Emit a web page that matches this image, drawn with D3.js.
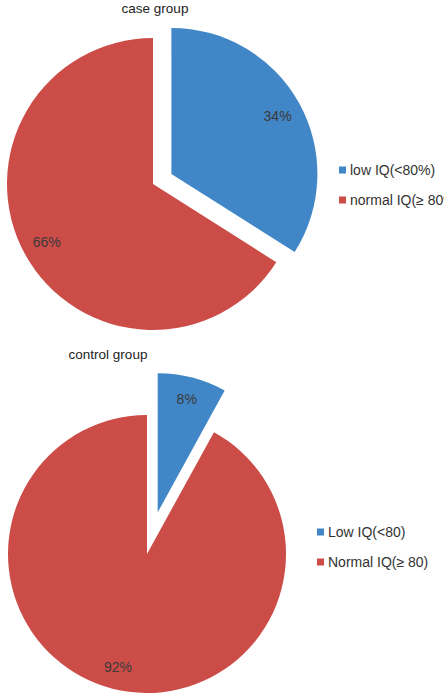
<!DOCTYPE html>
<html><head><meta charset="utf-8">
<script src="https://cdn.jsdelivr.net/npm/d3@7"></script>
<style>body{margin:0;background:#fff;overflow:hidden}svg{display:block}</style>
</head><body>
<svg id="c" width="444" height="694"></svg>
<script>
const caseCategories = ["low IQ(<80%)", "normal IQ(≥ 80%)"];
const caseValues = [34, 66];
const controlCategories = ["Low IQ(<80)", "Normal IQ(≥ 80)"];
const controlValues = [8, 92];
const titles = ["case group", "control group"];
const colors = ["#4186c6", "#cc4c48"];

const svg = d3.select("#c");
const font = "'Liberation Sans', Arial, sans-serif";

const charts = [
  {title: titles[0], cats: caseCategories, vals: caseValues, cx: 153, cy: 184, r: 146, explode: 21,
   tx: 155, ty: 13, lx: 339, ly: 170, lgap: 30, lf: 0.83},
  {title: titles[1], cats: controlCategories, vals: controlValues, cx: 147, cy: 554, r: 139, explode: 43,
   tx: 108, ty: 359, lx: 317, ly: 532, lgap: 30, lf: 0.84}
];

charts.forEach(ch => {
  const pie = d3.pie().sort(null).value(d => d)(ch.vals);
  const arc = d3.arc().innerRadius(0).outerRadius(ch.r);
  const g = svg.append("g").attr("transform", `translate(${ch.cx},${ch.cy})`);
  pie.forEach((p, i) => {
    const mid = (p.startAngle + p.endAngle) / 2;
    const off = i === 0 ? ch.explode : 0;
    const dx = Math.sin(mid) * off, dy = -Math.cos(mid) * off;
    const sg = g.append("g").attr("transform", `translate(${dx},${dy})`);
    sg.append("path").attr("d", arc(p)).attr("fill", colors[i]);
    const lr = ch.r * ch.lf;
    sg.append("text")
      .attr("x", Math.sin(mid) * lr).attr("y", -Math.cos(mid) * lr)
      .attr("text-anchor", "middle").attr("dominant-baseline", "central")
      .attr("font-family", font).attr("font-size", 14).attr("fill", "#3a3a3a")
      .text(ch.vals[i] + "%");
  });
  svg.append("text").attr("x", ch.tx).attr("y", ch.ty).attr("text-anchor", "middle")
    .attr("font-family", font).attr("font-size", 13.5).attr("fill", "#222").text(ch.title);
  ch.cats.forEach((c, i) => {
    const y = ch.ly + i * ch.lgap;
    svg.append("rect").attr("x", ch.lx).attr("y", y - 3.5).attr("width", 7).attr("height", 7).attr("fill", colors[i]);
    svg.append("text").attr("x", ch.lx + 11).attr("y", y).attr("dominant-baseline", "central")
      .attr("font-family", font).attr("font-size", 14).attr("fill", "#333").text(c);
  });
});
</script>
</body></html>
